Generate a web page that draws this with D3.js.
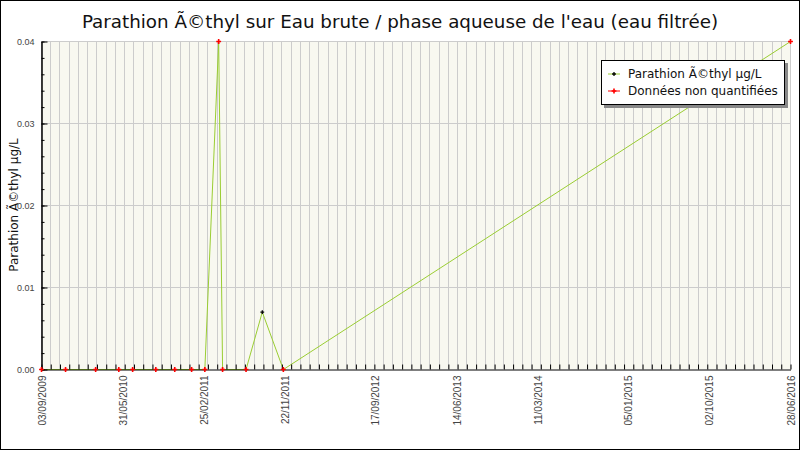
<!doctype html>
<html>
<head>
	<meta charset="utf-8">
	<title>Parathion éthyl</title>
	<script src="https://cdnjs.cloudflare.com/ajax/libs/d3/7.8.5/d3.min.js"></script>
	<style>
		body { margin: 0; background: #fff; }
		svg { display: block; }
	</style>
</head>
<body>
	<script>
		// measurement dates, values (µg/L) and whether the value was quantified
		var dates = ['2009-09-03', '2009-11-22', '2010-03-02', '2010-05-18', '2010-07-03',
			'2010-09-18', '2010-11-20', '2011-01-15', '2011-02-28', '2011-04-15',
			'2011-04-28', '2011-07-15', '2011-09-07', '2011-11-16', '2016-06-28'];
		var values = [0, 0, 0, 0, 0, 0, 0, 0, 0, 0.04, 0, 0, 0.007, 0, 0.04];
		var quantified = [false, false, false, false, false, false, false, false, false, false,
			false, false, true, false, false];

		var xTickLabels = ['03/09/2009', '31/05/2010', '25/02/2011', '22/11/2011', '17/09/2012',
			'14/06/2013', '11/03/2014', '05/01/2015', '02/10/2015', '28/06/2016'];
		var yTicks = [0, 0.01, 0.02, 0.03, 0.04];

		var title = "Parathion Ã©thyl sur Eau brute / phase aqueuse de l'eau (eau filtrée)";
		var yTitle = 'Parathion Ã©thyl µg/L';
		var legendLabels = ['Parathion Ã©thyl µg/L', 'Données non quantifiées'];

		var W = 800, H = 450;
		var margin = { top: 41, right: 10, bottom: 81, left: 41 };

		var parse = d3.timeParse('%Y-%m-%d');
		var parseLabel = d3.timeParse('%d/%m/%Y');
		var fmt = d3.timeFormat('%d/%m/%Y');

		var data = dates.map(function (d, i) {
			return { date: parse(d), value: values[i], q: quantified[i] };
		});
		var tickDates = xTickLabels.map(parseLabel);

		var svg = d3.select('body').append('svg')
			.attr('width', W)
			.attr('height', H);

		svg.append('rect')
			.attr('x', 0.5).attr('y', 0.5)
			.attr('width', W - 1).attr('height', H - 1)
			.attr('fill', '#fff')
			.attr('stroke', '#000');

		var x = d3.scaleTime()
			.domain([tickDates[0], tickDates[tickDates.length - 1]])
			.range([margin.left, W - margin.right]);
		var y = d3.scaleLinear()
			.domain([0, 0.04])
			.range([H - margin.bottom, margin.top]);

		// plot background
		svg.append('rect')
			.attr('x', x.range()[0]).attr('y', y.range()[1])
			.attr('width', x.range()[1] - x.range()[0])
			.attr('height', y.range()[0] - y.range()[1])
			.attr('fill', '#f8f8f0');

		// vertical grid, 9 steps between labels
		var d0 = x.domain()[0].getTime(), d1 = x.domain()[1].getTime();
		var gridDates = d3.range(0, 82).map(function (i) {
			return new Date(d0 + (d1 - d0) * i / 81);
		});

		svg.append('g')
			.selectAll('line')
			.data(gridDates)
			.join('line')
			.attr('x1', function (d) { return Math.round(x(d)) + 0.5; })
			.attr('x2', function (d) { return Math.round(x(d)) + 0.5; })
			.attr('y1', y(0)).attr('y2', y(0.04))
			.attr('stroke', '#cccccc');

		svg.append('g')
			.selectAll('line')
			.data(yTicks.slice(1))
			.join('line')
			.attr('x1', x.range()[0]).attr('x2', x.range()[1])
			.attr('y1', function (d) { return Math.round(y(d)) + 0.5; })
			.attr('y2', function (d) { return Math.round(y(d)) + 0.5; })
			.attr('stroke', '#cccccc');

		// series line (drawn under the axes)
		var line = d3.line()
			.x(function (d) { return x(d.date); })
			.y(function (d) { return y(d.value); });

		svg.append('path')
			.datum(data)
			.attr('transform', 'translate(0.5,0.5)')
			.attr('d', line)
			.attr('fill', 'none')
			.attr('stroke', '#9acd32')
			.attr('stroke-width', 1);

		// x axis: minor ticks at each grid line, labels at the tick dates
		svg.append('g')
			.attr('transform', 'translate(0.5,' + (Math.round(y(0)) + 0.5) + ')')
			.call(d3.axisBottom(x).tickValues(gridDates).tickSize(-5).tickSizeOuter(0).tickFormat(''))
			.call(function (g) { g.selectAll('line, path').attr('stroke', '#000'); });

		var xAxis = svg.append('g')
			.attr('transform', 'translate(0.5,' + (y(0) + 0.5) + ')')
			.call(d3.axisBottom(x).tickValues(tickDates).tickSize(0).tickFormat(fmt));
		xAxis.select('.domain').remove();
		xAxis.selectAll('text')
			.attr('font-family', 'Liberation Sans, Arial, sans-serif')
			.attr('font-size', 10)
			.attr('fill', '#444')
			.attr('transform', 'rotate(-90)')
			.attr('text-anchor', 'end')
			.attr('x', -6).attr('y', 0)
			.attr('dy', '0.35em');

		// y axis
		svg.append('g')
			.attr('transform', 'translate(' + (x.range()[0] + 0.5) + ',0.5)')
			.call(d3.axisRight(y).ticks(16).tickSize(3).tickSizeOuter(0).tickFormat(''))
			.call(function (g) { g.selectAll('line, path').attr('stroke', '#000'); });

		var yAxis = svg.append('g')
			.attr('transform', 'translate(' + (x.range()[0] + 0.5) + ',0.5)')
			.call(d3.axisRight(y).tickValues(yTicks).tickSize(6).tickSizeOuter(0).tickFormat(d3.format('.2f')));
		yAxis.selectAll('line, path').attr('stroke', '#000');
		yAxis.selectAll('text')
			.attr('font-family', 'Liberation Sans, Arial, sans-serif')
			.attr('font-size', 9)
			.attr('fill', '#444')
			.attr('text-anchor', 'end')
			.attr('x', -7);

		var cross = d3.symbol().type(d3.symbolCross);

		svg.append('g')
			.attr('transform', 'translate(0.5,0.5)')
			.selectAll('path')
			.data(data)
			.join('path')
			.attr('transform', function (d) { return 'translate(' + x(d.date) + ',' + y(d.value) + ')'; })
			.attr('d', function (d) { return cross.size(d.q ? 8 : 13)(); })
			.attr('fill', function (d) { return d.q ? '#000' : '#ff0000'; });

		// title
		svg.append('text')
			.attr('x', W / 2).attr('y', 28)
			.attr('text-anchor', 'middle')
			.attr('font-family', 'DejaVu Sans, sans-serif')
			.attr('font-size', 18.3)
			.attr('fill', '#111')
			.text(title);

		svg.append('text')
			.attr('transform', 'translate(18,' + ((y(0) + y(0.04)) / 2) + ') rotate(-90)')
			.attr('text-anchor', 'middle')
			.attr('font-family', 'DejaVu Sans, sans-serif')
			.attr('font-size', 12)
			.attr('fill', '#111')
			.text(yTitle);

		// legend
		var lg = svg.append('g').attr('transform', 'translate(601,60)');
		lg.append('rect')
			.attr('x', 3).attr('y', 3).attr('width', 184).attr('height', 45)
			.attr('fill', '#888');
		lg.append('rect')
			.attr('x', 0.5).attr('y', 0.5).attr('width', 183).attr('height', 44)
			.attr('fill', '#fff').attr('stroke', '#000');

		var items = lg.selectAll('g.item')
			.data(legendLabels)
			.join('g')
			.attr('class', 'item')
			.attr('transform', function (d, i) { return 'translate(0,' + (14 + i * 17) + ')'; });
		items.append('line')
			.attr('x1', 7).attr('x2', 19)
			.attr('stroke', function (d, i) { return i === 0 ? '#9acd32' : '#ff0000'; });
		items.append('path')
			.attr('transform', 'translate(13,0)')
			.attr('d', function (d, i) { return cross.size(i === 0 ? 8 : 13)(); })
			.attr('fill', function (d, i) { return i === 0 ? '#000' : '#ff0000'; });
		items.append('text')
			.attr('x', 27).attr('dy', '0.35em')
			.attr('font-family', 'DejaVu Sans, sans-serif')
			.attr('font-size', 12)
			.attr('fill', '#111')
			.text(function (d) { return d; });
	</script>
</body>
</html>
